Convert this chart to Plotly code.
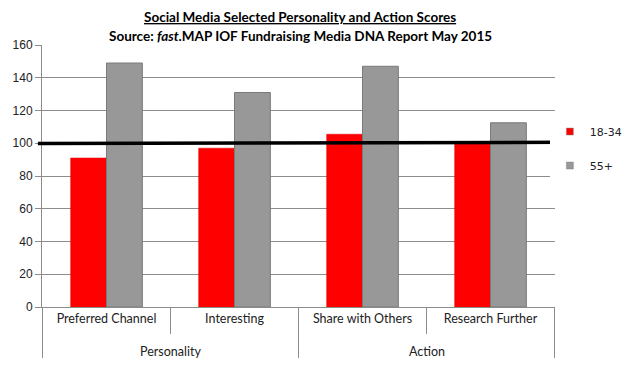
import plotly.graph_objects as go

groups = ["Personality", "Action"]
group_sizes = [2, 2]
categories = ["Preferred Channel", "Interesting", "Share with Others", "Research Further"]
young = [91, 97, 105.5, 100.5]
older = [149, 131, 147, 112.5]
series_names = ["18-34", "55+"]
series_colors = ["#ff0000", "#989898"]
benchmark = 100

fig = go.Figure()
fig.add_trace(go.Bar(x=categories, y=young, name=series_names[0], showlegend=False,
                     marker=dict(color=series_colors[0], line=dict(color="#e00000", width=0.5))))
fig.add_trace(go.Bar(x=categories, y=older, name=series_names[1], showlegend=False,
                     marker=dict(color=series_colors[1], line=dict(color="#7a7a7a", width=1))))
for nm, col in zip(series_names, series_colors):
    fig.add_trace(go.Scatter(x=[None], y=[None], mode="markers", name=nm, legendgroup=nm,
                             marker=dict(symbol="square", size=7, color=col,
                                         line=dict(color="#888", width=0.5))))

fig.add_shape(type="line", xref="paper", yref="y", x0=-0.008, x1=1.01,
              y0=benchmark - 0.2, y1=benchmark + 0.6,
              line=dict(color="black", width=3.5), layer="above")

# group labels and long dividers
start = 0
bounds = [-0.5]
for g, n in zip(groups, group_sizes):
    mid = start + (n - 1) / 2
    fig.add_annotation(x=mid, xref="x", y=-0.168, yref="paper", text=g, showarrow=False,
                       font=dict(family="Lato", size=12.5, color="#222"), yanchor="middle")
    start += n
    bounds.append(start - 0.5)
for b in bounds:
    fig.add_shape(type="line", xref="x", yref="paper", x0=b, x1=b, y0=0, y1=-0.195,
                  line=dict(color="#8c8c8c", width=1))

# page body has an 8px margin, so the figure is offset by 8px
fig.update_layout(
    width=627, height=358,
    margin=dict(l=34, r=80, t=37, b=59, autoexpand=False),
    paper_bgcolor="white", plot_bgcolor="white",
    barmode="group", bargap=0.44, bargroupgap=0,
    legend=dict(x=0.99, xanchor="left", y=0.725, yanchor="top",
                font=dict(family="DejaVu Sans", size=11, color="#222"),
                tracegroupgap=15, itemwidth=30, traceorder="grouped"),
    font=dict(family="Liberation Sans", color="#222"),
)
title_font = dict(family="Lato", size=13.5, color="black", weight="bold")
fig.add_annotation(xref="paper", yref="paper", x=0.503, y=1.0, yshift=28.5, showarrow=False,
                   text="<span style='text-decoration:underline'>Social Media Selected Personality and Action Scores</span>",
                   font=title_font, yanchor="middle")
fig.add_annotation(xref="paper", yref="paper", x=0.503, y=1.0, yshift=9, showarrow=False,
                   text="Source: <i>fast</i>.MAP IOF Fundraising Media DNA Report May 2015",
                   font=title_font, yanchor="middle")

fig.update_yaxes(range=[0, 160], dtick=20, showgrid=True, gridcolor="#8c8c8c", gridwidth=1,
                 showline=True, linecolor="#8c8c8c", ticks="outside", ticklen=6,
                 tickcolor="#8c8c8c", tickfont=dict(family="Liberation Sans", size=12, color="#222"),
                 zeroline=False, automargin=False)
fig.update_xaxes(showline=True, linecolor="#8c8c8c", ticks="outside", tickson="boundaries",
                 ticklen=26, tickcolor="#8c8c8c", automargin=False,
                 tickfont=dict(family="Lato", size=12.5, color="#222"))

fig.write_html("out.html")
